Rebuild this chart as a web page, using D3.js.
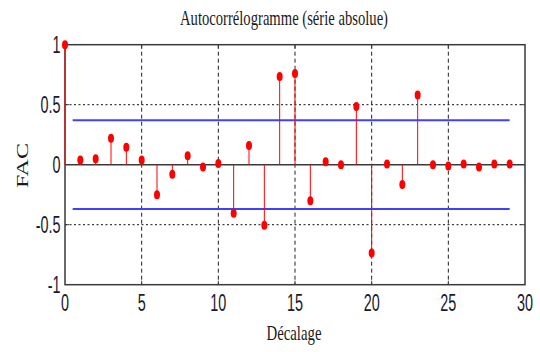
<!DOCTYPE html>
<html>
<head>
<meta charset="utf-8">
<script src="https://cdn.jsdelivr.net/npm/d3@7"></script>
<style>
  html, body { margin: 0; padding: 0; background: #fff; }
  svg { display: block; }
</style>
</head>
<body>
<svg id="chart" width="540" height="352"></svg>
<script>
// Autocorrelation values by lag (0..29)
const lags = d3.range(0, 30);
const acf = [1.00, 0.04, 0.05, 0.22, 0.145, 0.04, -0.25, -0.08, 0.075, -0.02,
             0.01, -0.405, 0.16, -0.505, 0.735, 0.76, -0.30, 0.025, 0.00, 0.485,
             -0.735, 0.005, -0.165, 0.58, 0.00, -0.01, 0.005, -0.02, 0.005, 0.005];
// Confidence band (±) and the lag range it spans
const confLevel = 0.37;
const confRange = [0.5, 29];
const xTicks = [0, 5, 10, 15, 20, 25, 30];
const yTicks = [-1, -0.5, 0, 0.5, 1];
const xGrid = [5, 10, 15, 20, 25];
const yGrid = [-0.5, 0.5];

const titleText = "Autocorrélogramme (série absolue)";
const xLabel = "Décalage";
const yLabel = "FAC";

const svg = d3.select("#chart");
const plotL = 65, plotR = 525, plotT = 44.7, plotB = 284.7;

const x = d3.scaleLinear().domain([0, 30]).range([plotL, plotR]);
const y = d3.scaleLinear().domain([-1, 1]).range([plotB, plotT]);

const frameColor = "#3a3a3a";
const tickFont = "'Liberation Sans', Arial, sans-serif";
const serif = "'Liberation Serif', 'Times New Roman', serif";
const squeeze = 0.6;

// grid lines
svg.append("g").selectAll("line").data(xGrid).join("line")
  .attr("x1", d => x(d)).attr("x2", d => x(d))
  .attr("y1", plotT).attr("y2", plotB)
  .attr("stroke", "#222").attr("stroke-width", 1)
  .attr("stroke-dasharray", "4,3");
svg.append("g").selectAll("line").data(yGrid).join("line")
  .attr("x1", plotL).attr("x2", plotR)
  .attr("y1", d => y(d)).attr("y2", d => y(d))
  .attr("stroke", "#111").attr("stroke-width", 1)
  .attr("stroke-dasharray", "2,2.5");

// confidence band lines
svg.append("g").selectAll("line").data([confLevel, -confLevel]).join("line")
  .attr("x1", x(confRange[0])).attr("x2", x(confRange[1]))
  .attr("y1", d => y(d)).attr("y2", d => y(d))
  .attr("stroke", "#4040ff").attr("stroke-width", 2);

// frame
svg.append("rect")
  .attr("x", plotL).attr("y", plotT)
  .attr("width", plotR - plotL).attr("height", plotB - plotT)
  .attr("fill", "none").attr("stroke", frameColor).attr("stroke-width", 1.5);

// zero baseline
svg.append("line")
  .attr("x1", plotL).attr("x2", plotR)
  .attr("y1", y(0)).attr("y2", y(0))
  .attr("stroke", frameColor).attr("stroke-width", 1.5);

// tick marks on the frame
const tickLen = 4;
const tk = svg.append("g").attr("stroke", frameColor).attr("stroke-width", 1);
xGrid.forEach(d => {
  tk.append("line").attr("x1", x(d)).attr("x2", x(d)).attr("y1", plotB).attr("y2", plotB - tickLen);
  tk.append("line").attr("x1", x(d)).attr("x2", x(d)).attr("y1", plotT).attr("y2", plotT + tickLen);
});
yGrid.forEach(d => {
  tk.append("line").attr("x1", plotL).attr("x2", plotL + tickLen).attr("y1", y(d)).attr("y2", y(d));
  tk.append("line").attr("x1", plotR).attr("x2", plotR - tickLen).attr("y1", y(d)).attr("y2", y(d));
});

// stems
const pts = lags.map((l, i) => ({ lag: l, v: acf[i] }));
svg.append("g").selectAll("line").data(pts).join("line")
  .attr("x1", d => x(d.lag)).attr("x2", d => x(d.lag))
  .attr("y1", y(0)).attr("y2", d => y(d.v))
  .attr("stroke", "#ff0000").attr("stroke-width", 1);

// markers
svg.append("g").selectAll("ellipse").data(pts).join("ellipse")
  .attr("cx", d => x(d.lag)).attr("cy", d => y(d.v))
  .attr("rx", 3).attr("ry", 4.5)
  .attr("fill", "#ff0000");

// tick labels
svg.append("g").selectAll("text").data(xTicks).join("text")
  .attr("transform", d => `translate(${x(d)},310.5) scale(${squeeze},1)`)
  .attr("text-anchor", "middle")
  .attr("font-family", tickFont).attr("font-size", 24)
  .attr("fill", "#1a1a2a")
  .text(d => d);
svg.append("g").selectAll("text").data(yTicks).join("text")
  .attr("transform", d => `translate(60.5,${y(d) + 8.5}) scale(${squeeze},1)`)
  .attr("text-anchor", "end")
  .attr("font-family", tickFont).attr("font-size", 24)
  .attr("fill", "#1a1a2a")
  .text(d => d);

// title
svg.append("text")
  .attr("x", 284).attr("y", 25)
  .attr("text-anchor", "middle")
  .attr("font-family", serif).attr("font-size", 22)
  .attr("textLength", 208).attr("lengthAdjust", "spacingAndGlyphs")
  .attr("fill", "#1a1a1a")
  .text(titleText);

// axis labels
svg.append("text")
  .attr("x", 294).attr("y", 339.5)
  .attr("text-anchor", "middle")
  .attr("font-family", serif).attr("font-size", 21)
  .attr("textLength", 55).attr("lengthAdjust", "spacingAndGlyphs")
  .attr("fill", "#1a1a1a")
  .text(xLabel);

svg.append("text")
  .attr("transform", "translate(27.5,165.5) scale(0.72,1) rotate(-90)")
  .attr("text-anchor", "middle")
  .attr("font-family", serif).attr("font-size", 22)
  .attr("textLength", 45).attr("lengthAdjust", "spacingAndGlyphs")
  .attr("fill", "#1a1a1a")
  .text(yLabel);
</script>
</body>
</html>
